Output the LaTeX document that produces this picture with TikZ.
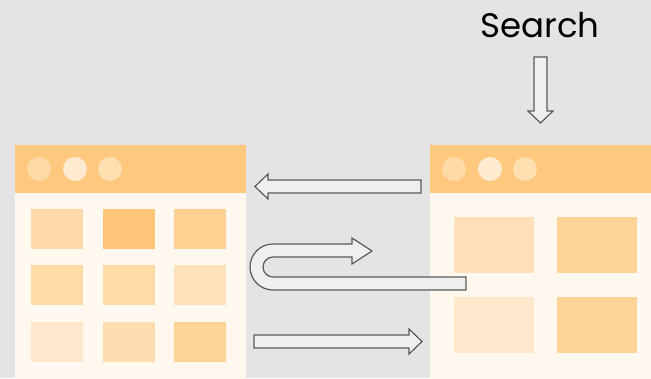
\documentclass[tikz,border=0pt]{standalone}
\usepackage{fontspec}
\setmainfont{Poppins}
\definecolor{bg}{HTML}{E4E4E4}
\definecolor{winbody}{HTML}{FEF8EF}
\definecolor{winbar}{HTML}{FEC87F}
\definecolor{dotA}{HTML}{FFD9A6}
\definecolor{dotB}{HTML}{FFEBD0}
\definecolor{dotC}{HTML}{FFDEB0}
\definecolor{tA}{HTML}{FFD9A8}
\definecolor{tB}{HTML}{FFC67A}
\definecolor{tC}{HTML}{FFD294}
\definecolor{tD}{HTML}{FFDBA8}
\definecolor{tE}{HTML}{FFE2BA}
\definecolor{tF}{HTML}{FFE8CC}
\definecolor{tG}{HTML}{FFDDB0}
\definecolor{tH}{HTML}{FFD496}
\definecolor{tI}{HTML}{FFE0B8}
\definecolor{arrline}{HTML}{5A5A5A}
\definecolor{arrfill}{HTML}{EFEFEF}
\begin{document}
\begin{tikzpicture}[x=1pt,y=-1pt,
  blockarrow/.style={draw=arrline,fill=arrfill,line width=1.2pt,line join=miter},
  tile/.style={inner sep=0pt,outer sep=0pt,anchor=north west},
  dot/.style={circle,inner sep=0pt,minimum size=24pt}]
\useasboundingbox (0,0) rectangle (651,378);
\clip (0,0) rectangle (651,378);
\fill[bg] (0,0) rectangle (651,378);

% left window
\node[tile,fill=winbody,minimum width=231pt,minimum height=240pt] (winL) at (15,145) {};
\fill[winbar] (15,145) rectangle (246,193);
\node[dot,fill=dotA] (dL1) at (39,169) {};
\node[dot,fill=dotB] (dL2) at (75,169) {};
\node[dot,fill=dotC] (dL3) at (110,169) {};
\foreach \x/\y/\c [count=\i] in {31/209/tA,103/209/tB,174/209/tC,
                                 31/265/tD,103/265/tD,174/265/tE,
                                 31/322/tF,103/322/tG,174/322/tH}
  \node[tile,fill=\c,minimum width=52pt,minimum height=40pt] (gL\i) at (\x,\y) {};

% right window
\node[tile,fill=winbody,minimum width=240pt,minimum height=240pt] (winR) at (430,145) {};
\fill[winbar] (430,145) rectangle (660,193);
\node[dot,fill=dotA] (dR1) at (454,169) {};
\node[dot,fill=dotB] (dR2) at (490,169) {};
\node[dot,fill=dotC] (dR3) at (525,169) {};
\foreach \x/\y/\c [count=\i] in {454/217/tI,557/217/tH,454/297/tF,557/297/tH}
  \node[tile,fill=\c,minimum width=80pt,minimum height=56pt] (gR\i) at (\x,\y) {};

% search label and its arrow
\node[font=\fontsize{34}{40}\selectfont,anchor=base] (search) at (540,37) {Search};
\draw[blockarrow] (534,57) -- (547,57) -- (547,111) -- (553,111) -- (540.5,123)
  -- (528,111) -- (534,111) -- cycle;

% back arrow
\draw[blockarrow] (421,180) -- (268,180) -- (268,174) -- (255,186.5) -- (268,199)
  -- (268,193) -- (421,193) -- cycle;

% round-trip arrow
\draw[blockarrow] (466,277) -- (273,277) arc[start angle=90,end angle=270,radius=10]
  -- (352,257) -- (352,264) -- (372,251) -- (352,238) -- (352,244) -- (273,244)
  arc[start angle=270,end angle=90,radius=23] -- (466,290) -- cycle;

% forward arrow
\draw[blockarrow] (254,335) -- (409,335) -- (409,329) -- (422,341.5) -- (409,354)
  -- (409,348) -- (254,348) -- cycle;
\end{tikzpicture}
\end{document}
